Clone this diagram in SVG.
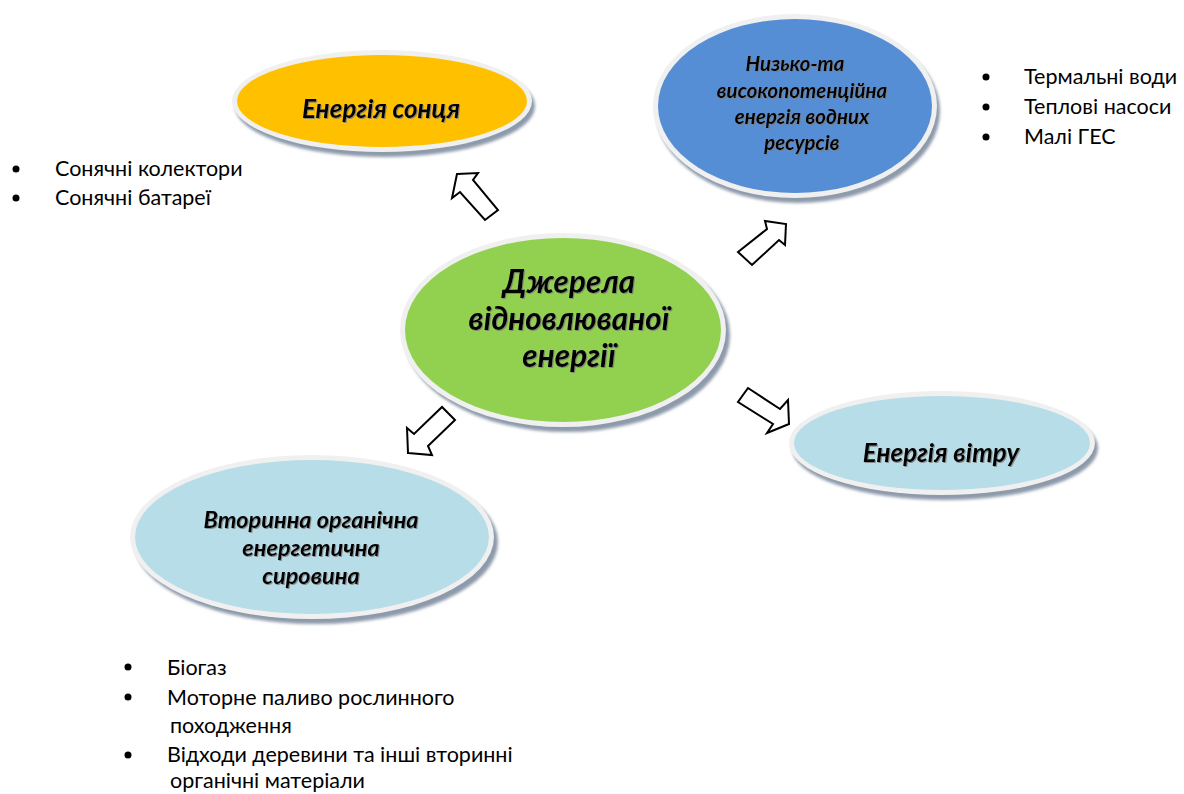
<svg xmlns="http://www.w3.org/2000/svg" width="1184" height="794" viewBox="0 0 1184 794">
<style>
.rim{fill:#f0f0f0}
.sh{fill:#8d9aab}
.lbl{font-family:Lato,"Liberation Sans",sans-serif;font-weight:bold;font-style:italic;fill:#000;text-anchor:middle}
.lst{font-family:Lato,"Liberation Sans",sans-serif;font-size:21.5px;fill:#000}
.arr{fill:#fff;stroke:#000;stroke-width:2;stroke-linejoin:miter}
</style>
<defs>
<filter id="blur" x="-10%" y="-10%" width="120%" height="120%"><feGaussianBlur stdDeviation="1.5"/></filter>
<filter id="ts" x="-5%" y="-20%" width="110%" height="140%"><feDropShadow dx="1" dy="1" stdDeviation="0.6" flood-color="#7a7a7a" flood-opacity="0.8"/></filter>
</defs>
<rect width="1184" height="794" fill="#fff"/>

<g id="connectors">
<polygon class="arr" points="457,174 478,173 473,180 498,210 485,220 460,192 452,198"/>
<polygon class="arr" points="786,224 785,245 779,240 752,265 738,252 767,229 765,221"/>
<polygon class="arr" points="408,453 432,455 428,446 455,420 442,407 414,434 407,428"/>
<polygon class="arr" points="789,424 767,433 773,424 738,402 748,388 780,409 788,400"/>
</g>

<g id="sun">
<ellipse class="sh" cx="385" cy="106" rx="150" ry="51" filter="url(#blur)"/>
<ellipse class="rim" cx="382" cy="101" rx="150" ry="51"/>
<ellipse cx="382" cy="101" rx="145" ry="46" fill="#ffc000"/>
<text class="lbl" x="381" y="118" font-size="26" filter="url(#ts)">Енергія сонця</text>
</g>

<g id="water">
<ellipse class="sh" cx="798" cy="111" rx="142" ry="92" filter="url(#blur)"/>
<ellipse class="rim" cx="795" cy="106" rx="142" ry="92"/>
<ellipse cx="795" cy="106" rx="137" ry="87" fill="#558ed5"/>
<g class="lbl" font-size="20.5" filter="url(#ts)">
<text x="795" y="71">Низько-та</text>
<text x="802" y="98">високопотенційна</text>
<text x="802" y="124">енергія водних</text>
<text x="802" y="150">ресурсів</text>
</g>
</g>

<g id="center">
<ellipse class="sh" cx="567" cy="335" rx="163" ry="97" filter="url(#blur)"/>
<ellipse class="rim" cx="563" cy="330" rx="163" ry="97"/>
<ellipse cx="563" cy="330" rx="158" ry="92" fill="#92d050"/>
<g class="lbl" font-size="31.5" filter="url(#ts)">
<text x="569" y="293">Джерела</text>
<text x="569" y="330">відновлюваної</text>
<text x="569" y="367">енергії</text>
</g>
</g>

<g id="wind">
<ellipse class="sh" cx="945" cy="448" rx="153" ry="52" filter="url(#blur)"/>
<ellipse class="rim" cx="942" cy="443" rx="153" ry="52"/>
<ellipse cx="942" cy="443" rx="148" ry="47" fill="#b7dde8"/>
<text class="lbl" x="941" y="462" font-size="26" filter="url(#ts)">Енергія вітру</text>
</g>

<g id="bio">
<ellipse class="sh" cx="316" cy="542" rx="182" ry="82" filter="url(#blur)"/>
<ellipse class="rim" cx="312" cy="537" rx="182" ry="82"/>
<ellipse cx="312" cy="537" rx="177" ry="77" fill="#b7dde8"/>
<g class="lbl" font-size="23.5" filter="url(#ts)">
<text x="311" y="528">Вторинна органічна</text>
<text x="311" y="556">енергетична</text>
<text x="311" y="584">сировина</text>
</g>
</g>

<g id="sun-list" class="lst">
<circle cx="16" cy="169" r="3.5"/>
<circle cx="16" cy="198" r="3.5"/>
<text x="55" y="176">Сонячні колектори</text>
<text x="55" y="205">Сонячні батареї</text>
</g>

<g id="water-list" class="lst">
<circle cx="986" cy="77" r="3.5"/>
<circle cx="986" cy="107" r="3.5"/>
<circle cx="986" cy="137" r="3.5"/>
<text x="1024" y="84">Термальні води</text>
<text x="1024" y="114">Теплові насоси</text>
<text x="1024" y="144">Малі ГЕС</text>
</g>

<g id="bio-list" class="lst">
<circle cx="128" cy="667" r="3.5"/>
<circle cx="128" cy="697" r="3.5"/>
<circle cx="128" cy="755" r="3.5"/>
<text x="167" y="675">Біогаз</text>
<text x="167" y="705">Моторне паливо рослинного</text>
<text x="170" y="733">походження</text>
<text x="167" y="762">Відходи деревини та інші вторинні</text>
<text x="170" y="788">органічні матеріали</text>
</g>
</svg>
